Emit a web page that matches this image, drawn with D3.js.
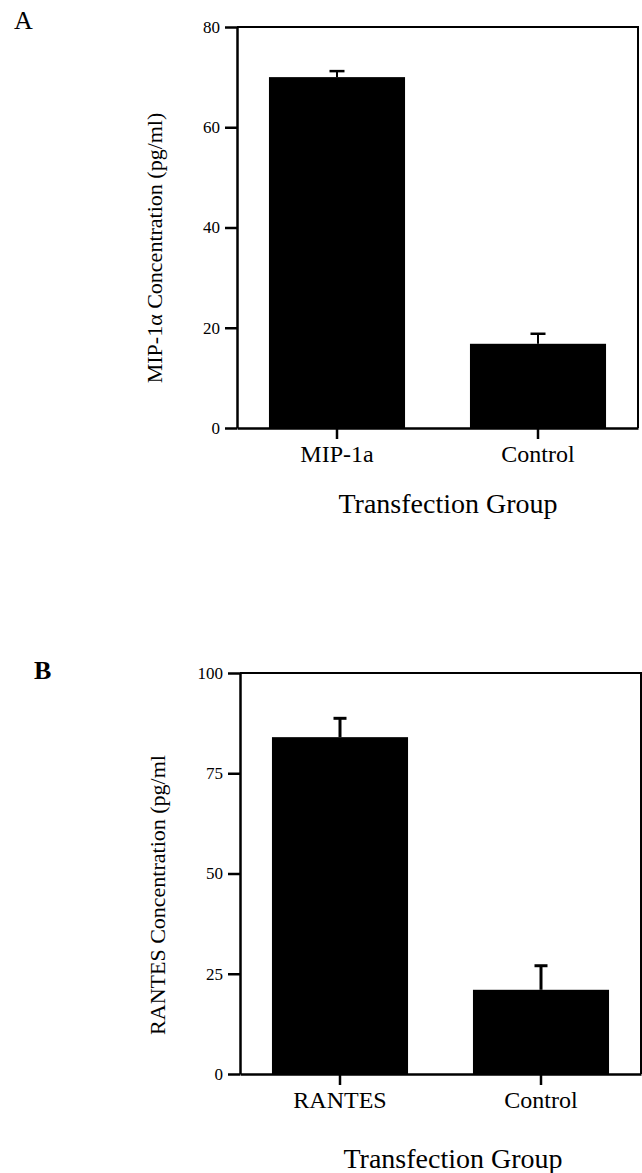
<!DOCTYPE html>
<html>
<head>
<meta charset="utf-8">
<script src="https://d3js.org/d3.v7.min.js"></script>
<style>
  body { margin: 0; background: #fff; }
  svg { display: block; }
</style>
</head>
<body>
<div id="my_dataviz"></div>
<script>
// Panel A data
var groupsA = ["MIP-1a", "Control"];
var meansA = [70, 16.8];
var errA = [1.2, 2.0];
var ticksA = [0, 20, 40, 60, 80];

// Panel B data
var groupsB = ["RANTES", "Control"];
var meansB = [84, 21];
var errB = [4.7, 6];
var ticksB = [0, 25, 50, 75, 100];

var font = "'Liberation Serif', 'Times New Roman', serif";

var svg = d3.select("#my_dataviz")
    .append("svg")
    .attr("width", 642)
    .attr("height", 1173);

function drawPanel(p) {
    var x = d3.scaleBand()
        .domain(p.groups)
        .range([p.left, p.right])
        .paddingInner(0.323)
        .paddingOuter(0.159);

    var y = d3.scaleLinear()
        .domain([0, p.ticks[p.ticks.length - 1]])
        .range([p.bottom, p.top]);

    var g = svg.append("g");

    // bars
    g.selectAll("rect.bar")
        .data(p.means)
        .enter()
        .append("rect")
        .attr("class", "bar")
        .attr("x", function(d, i) { return x(p.groups[i]); })
        .attr("y", function(d) { return y(d); })
        .attr("width", x.bandwidth())
        .attr("height", function(d) { return y(0) - y(d); })
        .attr("fill", "#000");

    // error bars (upper only)
    g.selectAll("line.stem")
        .data(p.means)
        .enter()
        .append("line")
        .attr("x1", function(d, i) { return x(p.groups[i]) + x.bandwidth() / 2; })
        .attr("x2", function(d, i) { return x(p.groups[i]) + x.bandwidth() / 2; })
        .attr("y1", function(d) { return y(d); })
        .attr("y2", function(d, i) { return y(d + p.err[i]); })
        .attr("stroke", "#000")
        .attr("stroke-width", p.stem);
    g.selectAll("line.cap")
        .data(p.means)
        .enter()
        .append("line")
        .attr("x1", function(d, i) { return x(p.groups[i]) + x.bandwidth() / 2 - p.cap; })
        .attr("x2", function(d, i) { return x(p.groups[i]) + x.bandwidth() / 2 + p.cap; })
        .attr("y1", function(d, i) { return y(d + p.err[i]); })
        .attr("y2", function(d, i) { return y(d + p.err[i]); })
        .attr("stroke", "#000")
        .attr("stroke-width", p.capW);

    // frame top and right
    g.append("path")
        .attr("d", "M" + p.left + "," + p.top + "H" + p.right + "V" + p.bottom)
        .attr("fill", "none")
        .attr("stroke", "#000")
        .attr("stroke-width", 2);

    // Y axis
    var ya = g.append("g")
        .attr("transform", "translate(" + p.left + ",0)")
        .call(d3.axisLeft(y).tickValues(p.ticks).tickSize(12).tickPadding(5).tickSizeOuter(0));
    ya.select(".domain").attr("stroke-width", 2.5);
    ya.selectAll(".tick line").attr("stroke-width", 2.5);
    ya.selectAll("text")
        .style("font-family", font)
        .style("font-size", "17px")
        .attr("fill", "#000");

    // X axis
    var xa = g.append("g")
        .attr("transform", "translate(0," + p.bottom + ")")
        .call(d3.axisBottom(x).tickSize(11).tickPadding(6).tickSizeOuter(0));
    xa.select(".domain").attr("stroke-width", 2.5);
    xa.selectAll(".tick line").attr("stroke-width", 2.5);
    xa.selectAll("text")
        .style("font-family", font)
        .style("font-size", "24px")
        .attr("fill", "#000");

    // x axis title
    g.append("text")
        .attr("x", p.xtX)
        .attr("y", p.xtY)
        .attr("text-anchor", "middle")
        .style("font-family", font)
        .style("font-size", "28px")
        .text("Transfection Group");

    // y axis title
    g.append("text")
        .attr("transform", "translate(" + p.ytX + "," + p.ytY + ") rotate(-90)")
        .attr("text-anchor", "middle")
        .style("font-family", font)
        .style("font-size", "22px")
        .text(p.ylabel);

    // panel letter
    g.append("text")
        .attr("x", p.letX)
        .attr("y", p.letY)
        .style("font-family", font)
        .style("font-size", "26px")
        .style("font-weight", p.letBold ? "bold" : "normal")
        .text(p.letter);
}

drawPanel({
    groups: groupsA, means: meansA, err: errA, ticks: ticksA,
    left: 237, right: 638, top: 27, bottom: 428,
    stem: 2, cap: 7.5, capW: 2.5,
    xtX: 448, xtY: 513,
    ytX: 162, ytY: 248, ylabel: "MIP-1\u03b1 Concentration (pg/ml)",
    letter: "A", letX: 14, letY: 29, letBold: false
});

drawPanel({
    groups: groupsB, means: meansB, err: errB, ticks: ticksB,
    left: 240, right: 641, top: 673, bottom: 1074,
    stem: 3, cap: 6.5, capW: 3,
    xtX: 453, xtY: 1168,
    ytX: 165, ytY: 895, ylabel: "RANTES Concentration (pg/ml",
    letter: "B", letX: 34, letY: 679, letBold: true
});
</script>
</body>
</html>
